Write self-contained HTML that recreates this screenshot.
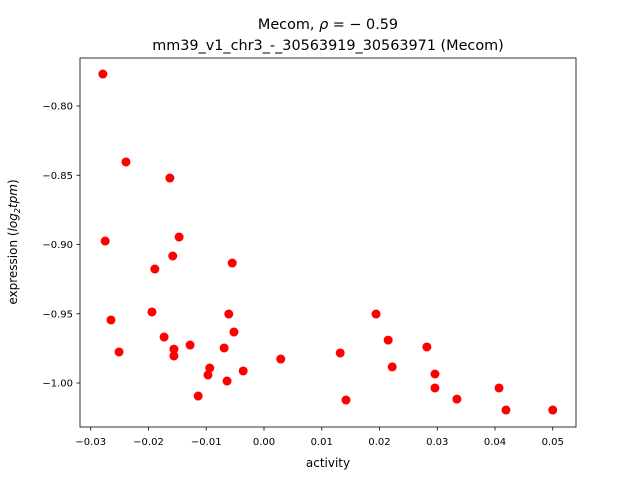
<!DOCTYPE html>
<html><head><meta charset="utf-8"><style>
body{margin:0;background:#fff}
svg text{font-family:"DejaVu Sans","Liberation Sans",sans-serif;fill:#000}
</style></head><body>
<svg id="chart" width="640" height="480" viewBox="0 0 640 480" xmlns="http://www.w3.org/2000/svg">
<rect width="640" height="480" fill="#fff"/>
<text x="328" y="29" font-size="14.4" text-anchor="middle">Mecom, <tspan font-style="italic">ρ</tspan> = − 0.59</text>
<text x="328" y="50" font-size="14.4" text-anchor="middle">mm39_v1_chr3_-_30563919_30563971 (Mecom)</text>
<g id="plot"></g>
<rect x="80" y="58" width="496" height="369" fill="none" stroke="#000" stroke-width="0.8"/>
<text x="328" y="467" font-size="12" text-anchor="middle">activity</text>
<text transform="translate(17,242) rotate(-90)" font-size="12" text-anchor="middle">expression (<tspan font-style="italic">log</tspan><tspan font-size="8" dy="3" font-style="italic">2</tspan><tspan dy="-3" font-style="italic">tpm</tspan>)</text>
</svg>
<script>
const xs=[-0.0279,-0.0239,-0.0163,-0.0275,-0.0147,-0.0189,-0.0158,-0.0055,-0.0265,-0.0194,-0.0173,-0.0128,-0.0156,-0.0156,-0.0061,-0.0052,-0.0069,-0.0094,-0.0097,-0.0114,-0.0064,-0.0036,0.0029,0.0132,0.0142,0.0194,0.0215,0.0222,0.0282,0.0296,0.0296,0.0334,0.0407,0.0419,0.0500,-0.0251];
const ys=[-0.7769,-0.8404,-0.852,-0.8975,-0.8946,-0.9177,-0.9083,-0.9134,-0.9545,-0.9487,-0.9668,-0.9726,-0.9755,-0.9805,-0.9502,-0.9632,-0.9747,-0.9892,-0.9942,-1.0094,-0.9986,-0.9913,-0.9827,-0.9783,-1.0123,-0.9502,-0.9690,-0.9884,-0.9740,-0.9935,-1.0036,-1.0116,-1.0036,-1.0195,-1.0195,-0.9776];
const xTicks=[-0.03,-0.02,-0.01,0.00,0.01,0.02,0.03,0.04,0.05];
const xTickLabels=["−0.03","−0.02","−0.01","0.00","0.01","0.02","0.03","0.04","0.05"];
const yTicks=[-0.80,-0.85,-0.90,-0.95,-1.00];
const yTickLabels=["−0.80","−0.85","−0.90","−0.95","−1.00"];
const NS="http://www.w3.org/2000/svg";
const X=v=>264+v*5775;
const Y=v=>106-(v+0.8)*1385;
const g=document.getElementById('plot');
function mk(t,a){const e=document.createElementNS(NS,t);for(const k in a)e.setAttribute(k,a[k]);g.appendChild(e);return e;}
xTicks.forEach((t,i)=>{
 const l=mk('line',{x1:X(t),x2:X(t),y1:427,y2:430.5,stroke:'#000','stroke-width':0.8});
 
 
 const tx=mk('text',{x:X(t),y:445,'font-size':10,'text-anchor':'middle'});tx.textContent=xTickLabels[i];
 
 
});
yTicks.forEach((t,i)=>{
 const l=mk('line',{x1:76.5,x2:80,y1:Y(t),y2:Y(t),stroke:'#000','stroke-width':0.8});
 
 
 const tx=mk('text',{x:73,y:Y(t)+3.5,'font-size':10,'text-anchor':'end'});tx.textContent=yTickLabels[i];
 
 
});
xs.forEach((v,i)=>{
 const c=mk('circle',{cx:X(v),cy:Y(ys[i]),r:4.5,fill:'#ff0000'});
 
 
});
</script>
</body></html>
